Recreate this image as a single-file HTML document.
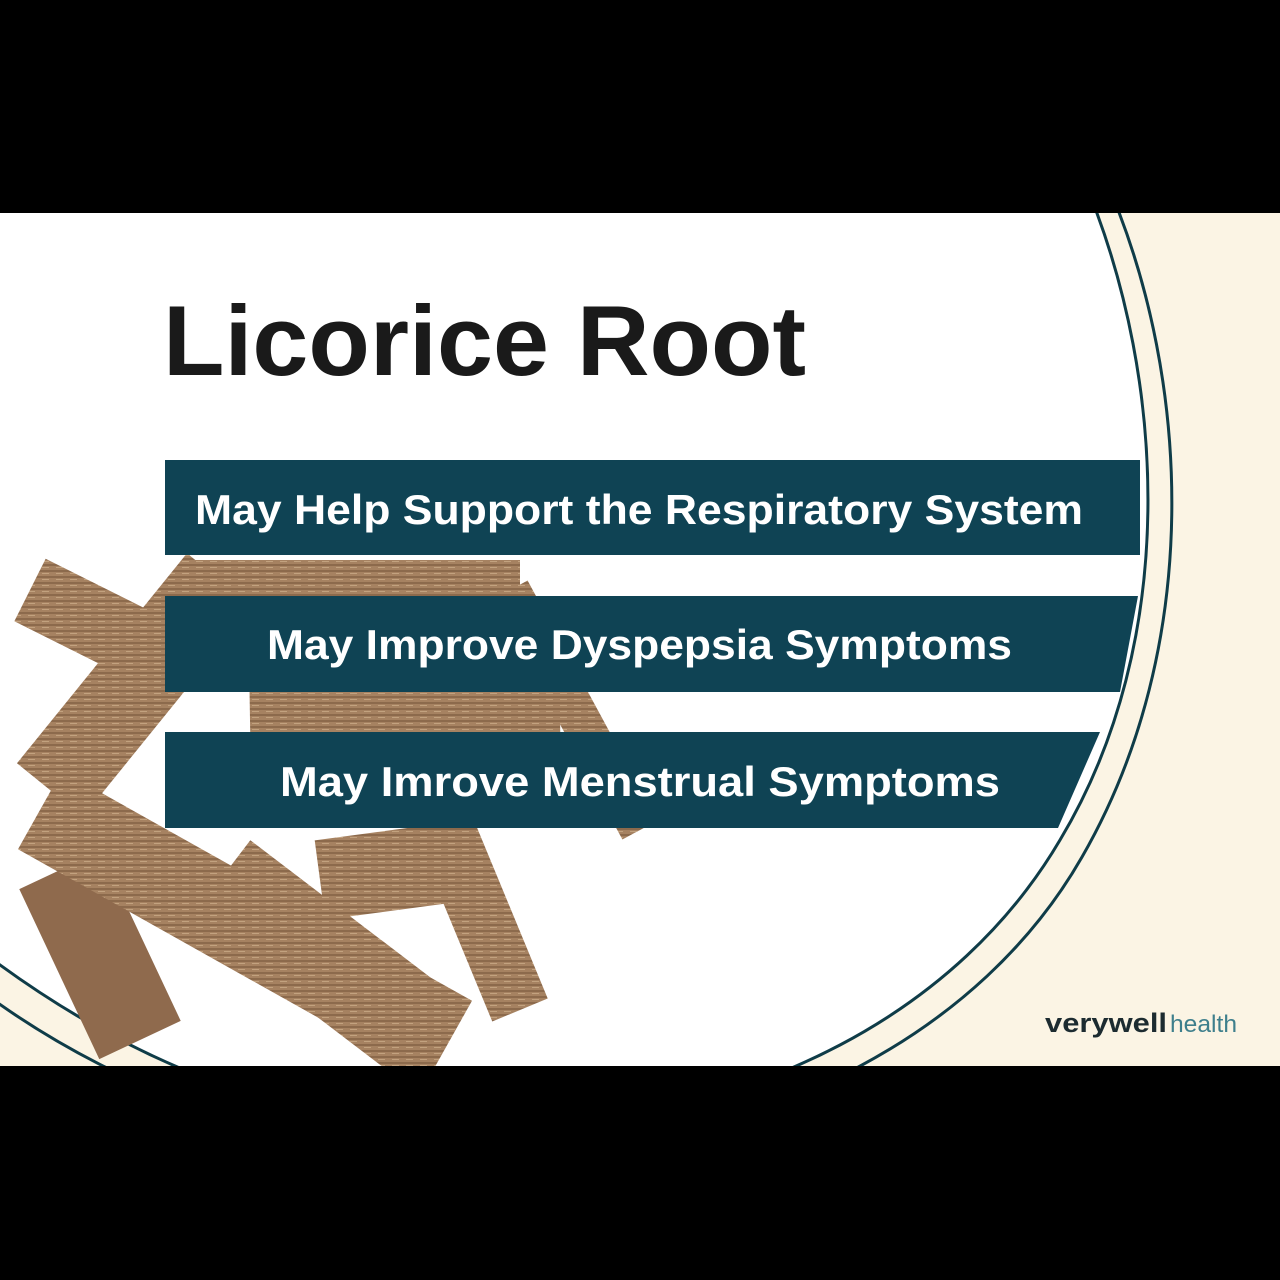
<!DOCTYPE html>
<html><head><meta charset="utf-8"><style>
html,body{margin:0;padding:0;background:#000;}
#c{position:relative;width:1280px;height:1280px;overflow:hidden;background:#000;}
svg{position:absolute;left:0;top:0;}
.t{font-family:"Liberation Sans",sans-serif;}
</style></head><body><div id="c">
<svg width="1280" height="1280" viewBox="0 0 1280 1280">
<defs>
<clipPath id="cl"><rect x="0" y="213" width="1280" height="853"/></clipPath>
<pattern id="wood" width="14" height="6" patternUnits="userSpaceOnUse">
<rect width="14" height="6" fill="#a68261"/>
<rect y="0" width="14" height="2" fill="#8c6a4c"/>
<rect y="3" width="7" height="1" fill="#c2a27f"/>
</pattern>
</defs>
<g clip-path="url(#cl)">
<rect x="0" y="213" width="1280" height="853" fill="#fbf4e4"/>
<path d="M1088,190 C1165,380 1180,640 1060,840 C960,1010 760,1120 500,1130 C330,1136 150,1080 -20,950 L-20,190 Z" fill="#fff"/>
<path d="M1088,190 C1165,380 1180,640 1060,840 C960,1010 760,1120 500,1130 C330,1136 150,1080 -20,950" fill="none" stroke="#0f3c48" stroke-width="3"/>
<path d="M1110,190 C1190,380 1204,645 1082,857 C982,1032 770,1147 500,1157 C320,1162 130,1102 -20,990" fill="none" stroke="#0f3c48" stroke-width="3"/>
<g stroke-linecap="butt">
<line x1="190" y1="620" x2="520" y2="620" stroke="url(#wood)" stroke-width="120"/>
<line x1="30" y1="590" x2="170" y2="660" stroke="url(#wood)" stroke-width="70"/>
<line x1="510" y1="590" x2="640" y2="830" stroke="url(#wood)" stroke-width="40"/>
<line x1="250" y1="720" x2="560" y2="715" stroke="url(#wood)" stroke-width="60"/>
<line x1="60" y1="870" x2="140" y2="1040" stroke="#8f6a4d" stroke-width="90"/>
<line x1="50" y1="790" x2="220" y2="580" stroke="url(#wood)" stroke-width="85"/>
<line x1="400" y1="720" x2="520" y2="1010" stroke="url(#wood)" stroke-width="60"/>
<line x1="320" y1="880" x2="470" y2="860" stroke="url(#wood)" stroke-width="80"/>
<line x1="40" y1="810" x2="450" y2="1040" stroke="url(#wood)" stroke-width="90"/>
<line x1="220" y1="880" x2="430" y2="1040" stroke="url(#wood)" stroke-width="100"/>
</g>
<rect x="165" y="460" width="975" height="95" fill="#0f4354"/>
<path d="M165,596 H1138 L1120,692 H165 Z" fill="#0f4354"/>
<path d="M165,732 H1100 L1058,828 H165 Z" fill="#0f4354"/>
</g>
<text class="t" x="163" y="375" font-size="99" font-weight="bold" fill="#1a1a1a" textLength="643" lengthAdjust="spacingAndGlyphs">Licorice Root</text>
<text class="t" x="195" y="524" font-size="42" font-weight="bold" fill="#fff" textLength="888" lengthAdjust="spacingAndGlyphs">May Help Support the Respiratory System</text>
<text class="t" x="267" y="659" font-size="42" font-weight="bold" fill="#fff" textLength="745" lengthAdjust="spacingAndGlyphs">May Improve Dyspepsia Symptoms</text>
<text class="t" x="280" y="796" font-size="42" font-weight="bold" fill="#fff" textLength="720" lengthAdjust="spacingAndGlyphs">May Imrove Menstrual Symptoms</text>
<text class="t" x="1045" y="1032" font-size="27" font-weight="bold" fill="#1c2b30" textLength="122" lengthAdjust="spacingAndGlyphs">verywell</text>
<text class="t" x="1170" y="1032" font-size="24" fill="#3e7f8c" textLength="67" lengthAdjust="spacingAndGlyphs">health</text>
</svg>
</div></body></html>
